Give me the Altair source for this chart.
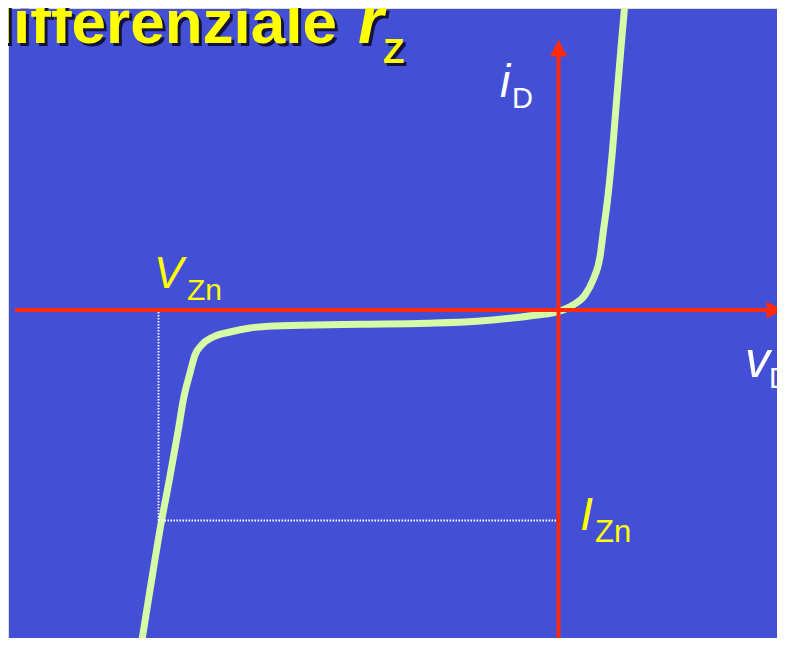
import altair as alt
import pandas as pd

# ---- data (reference pixel coordinates of the diagram) ----
curve_x = [141, 150, 161.7, 169.3, 178.3, 183.3, 190, 195, 201.7, 213, 230, 250, 273, 300, 360, 427, 477, 510, 537, 558, 573, 585, 593, 600, 603.5, 607.5, 612.5, 616.6, 620.8, 624.5]
curve_y = [646, 590, 520, 480, 430, 400, 373, 355, 345, 337, 332, 328, 326, 325.3, 324.3, 323.3, 321.3, 318.3, 315, 311.7, 305, 295, 280, 256.7, 230, 200, 150, 100, 50, 8]

axis_x1 = [15, 558.5]
axis_x2 = [770, 558.5]
axis_y1 = [310, 646]
axis_y2 = [310, 54]

arrow_x = [775, 558.5]
arrow_y = [310, 48]
arrow_dir = ["right", "up"]

dot_x1 = [158.5, 158.5]
dot_x2 = [158.5, 556]
dot_y1 = [312, 520.5]
dot_y2 = [520.5, 520.5]

BG = "#434fd5"
RED = "#ff2a0c"
GREEN = "#d6fba6"
YELLOW = "#ffff00"

X = dict(scale=alt.Scale(domain=[8, 777], nice=False, zero=False), axis=None)
Y = dict(scale=alt.Scale(domain=[8, 638], nice=False, zero=False, reverse=True), axis=None)

def xe(f): return alt.X(f"{f}:Q", **X)
def ye(f): return alt.Y(f"{f}:Q", **Y)

curve_df = pd.DataFrame({"x": curve_x, "y": curve_y, "i": range(len(curve_x))})
curve = alt.Chart(curve_df).mark_line(
    color=GREEN, strokeWidth=7, interpolate="monotone", strokeCap="butt", clip=True
).encode(x=xe("x"), y=ye("y"), order="i:O")

axes_df = pd.DataFrame({"x": axis_x1, "x2": axis_x2, "y": axis_y1, "y2": axis_y2})
axes = alt.Chart(axes_df).mark_rule(color=RED, strokeWidth=4, clip=True).encode(
    x=xe("x"), x2="x2:Q", y=ye("y"), y2="y2:Q")

arr_df = pd.DataFrame({"x": arrow_x, "y": arrow_y, "d": arrow_dir})
arr_r = alt.Chart(arr_df).transform_filter("datum.d == 'right'").mark_point(
    shape="M -1 -1 L 1 0 L -1 1 Z", size=289, filled=True, color=RED, opacity=1, strokeWidth=0
).encode(x=xe("x"), y=ye("y"))
arr_u = alt.Chart(arr_df).transform_filter("datum.d == 'up'").mark_point(
    shape="M -1 1 L 0 -1 L 1 1 Z", size=289, filled=True, color=RED, opacity=1, strokeWidth=0
).encode(x=xe("x"), y=ye("y"))

dot_df = pd.DataFrame({"x": dot_x1, "x2": dot_x2, "y": dot_y1, "y2": dot_y2})
dots = alt.Chart(dot_df).mark_rule(color="white", strokeWidth=1.8, strokeDash=[1.5, 1.5]).encode(
    x=xe("x"), x2="x2:Q", y=ye("y"), y2="y2:Q")

# ---- text labels ----
def label(text, x, y, size, color, italic=False, bold=False, align="left", dx=0, dy=0):
    df = pd.DataFrame({"t": [text], "x": [x], "y": [y]})
    return alt.Chart(df).mark_text(
        font="Liberation Sans", fontSize=size, color=color,
        fontStyle="italic" if italic else "normal",
        fontWeight="bold" if bold else "normal",
        align=align, baseline="alphabetic", dx=dx, dy=dy,
    ).encode(x=xe("x"), y=ye("y"), text="t:N")

title_main = "differenziale"
title_r = "r"
title_sub = "Z"
SH = "#12123a"
title_layers = [
    label(title_main, 337, 43, 62, SH, bold=True, align="right", dx=3, dy=3),
    label(title_r, 358, 43, 66, SH, bold=True, italic=True, dx=3, dy=3),
    label(title_sub, 383, 63, 35, SH, bold=True, dx=3, dy=3),
    label(title_main, 337, 43, 62, YELLOW, bold=True, align="right"),
    label(title_r, 358, 43, 66, YELLOW, bold=True, italic=True),
    label(title_sub, 383, 63, 35, YELLOW, bold=True),
]

labels = [
    label("i", 500, 97, 46, "white", italic=True),
    label("D", 512, 108, 29, "white"),
    label("V", 154, 288, 44, YELLOW, italic=True),
    label("Zn", 187, 300, 30, YELLOW),
    label("v", 745, 377, 50, "white", italic=True),
    label("D", 769, 388, 29, "white"),
    label("I", 580, 530, 47, YELLOW, italic=True),
    label("Zn", 595, 542, 31, YELLOW),
]

chart = alt.layer(curve, dots, axes, arr_r, arr_u, *title_layers, *labels).properties(
    width=769, height=630, padding=0, autosize="none"
).configure_view(strokeWidth=0, fill=BG).configure(background=BG)

chart.save("out.html", embed_options={"renderer": "svg", "actions": False})
